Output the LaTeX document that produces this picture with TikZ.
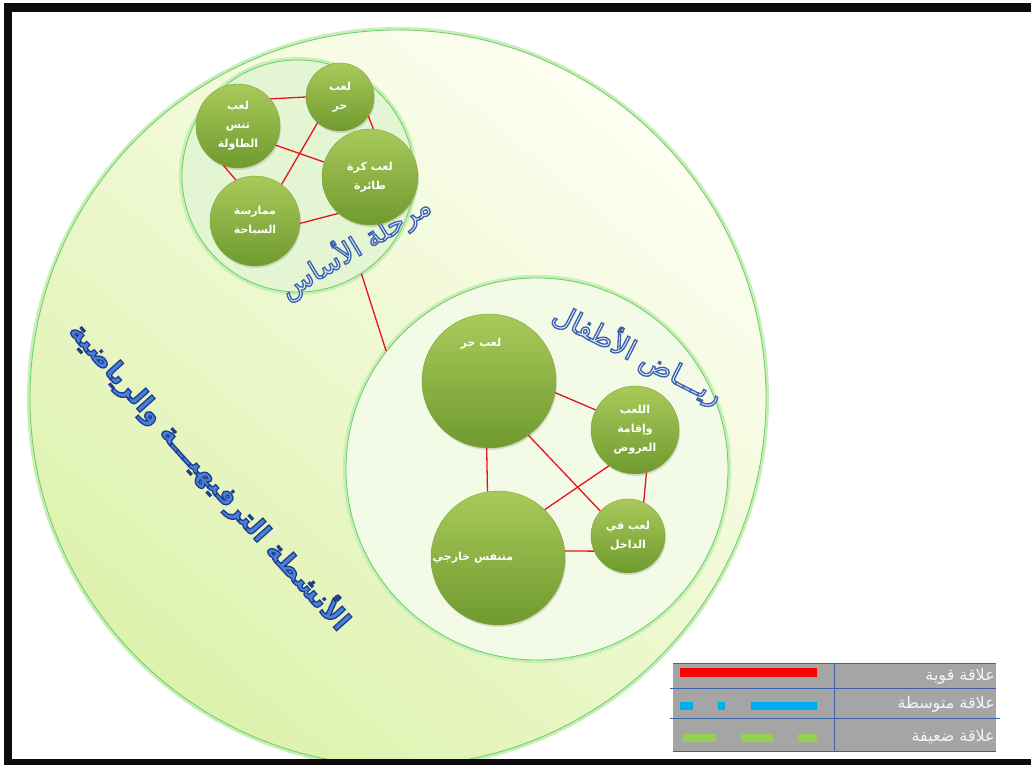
\documentclass[tikz,border=0pt]{standalone}
\usepackage{fontspec}
\newfontfamily\arabicfont[Script=Arabic]{DejaVu Sans}
\TeXXeTstate=1
\usetikzlibrary{calc,shadows}

\definecolor{nodeTop}{HTML}{A9CA5B}
\definecolor{nodeBot}{HTML}{6F9A2E}
\definecolor{nodeEdge}{HTML}{7FA63C}
\definecolor{ringG}{HTML}{6CCB6A}
\definecolor{glowG}{HTML}{C6EFB4}
\definecolor{paleY}{HTML}{FEFEF2}
\definecolor{paleG}{HTML}{DDF2AC}
\definecolor{stageG}{HTML}{E3F5D2}
\definecolor{kgG}{HTML}{F3FAE6}
\definecolor{linkR}{HTML}{E5141C}
\definecolor{titleFill}{HTML}{E4EDFA}
\definecolor{bigFill}{HTML}{4A80D6}
\definecolor{legGray}{HTML}{A5A5A5}
\definecolor{legLine}{HTML}{3F63A8}
\definecolor{legBlue}{HTML}{00AEEF}
\definecolor{legGreen}{HTML}{92D050}
\definecolor{legRed}{HTML}{FF0000}

\newcommand\bubblefont{\arabicfont\bfseries\fontsize{11}{19}\selectfont}
% outlined glyphs: fill with the text colour, stroke with the given rgb and width
\newcommand\outlined[2]{\special{pdf:literal direct #1 RG #2 w 2 Tr}}

\begin{document}
\begin{tikzpicture}[x=1pt,y=-1pt,
  region/.style={circle, inner sep=0pt, draw=ringG, line width=0.8pt,
    preaction={draw=glowG, line width=6pt}},
  bubble/.style={circle, inner sep=0pt, top color=nodeTop, bottom color=nodeBot,
    draw=nodeEdge, line width=0.4pt, text=white, font=\bubblefont, align=center,
    drop shadow={opacity=0.25, shadow xshift=1pt, shadow yshift=-2pt}},
  bubbletext/.style={text=white, font=\bubblefont, align=center, inner sep=0pt},
  link/.style={draw=linkR, line width=1.3pt},
  stagetitle/.style={text=titleFill, font=\arabicfont\fontsize{28}{28}\selectfont, inner sep=0pt},
  bigtitle/.style={text=bigFill, font=\arabicfont\bfseries\fontsize{27}{27}\selectfont, inner sep=0pt},
  legtext/.style={text=white!96!black, font=\arabicfont\fontsize{16}{16}\selectfont, inner sep=0pt, anchor=east},
  legrule/.style={draw=legLine, line width=0.6pt}
]
\useasboundingbox (0,0) rectangle (1031,765);
\fill[white] (0,0) rectangle (1031,765);

% outer circle: recreational and sports activities
\node[region, minimum size=736pt, top color=paleY, bottom color=paleG, shading angle=-40] (outer) at (398,398) {};

% stage circles
\node[region, minimum size=232pt, fill=stageG] (basic) at (298,176) {};
\node[region, minimum size=382pt, fill=kgG] (kg) at (537,469) {};

% link between the two stages
\draw[link] (basic.-57) -- (kg.142);

% titles
\node[bigtitle, rotate=-48] (bigt) at (210,476) {\outlined{0.12 0.24 0.56}{1.3}\beginR الأنشطة الترفيهيـــة والرياضية\endR};
\node[stagetitle, rotate=31] (basict) at (355,247) {\outlined{0.23 0.38 0.68}{1.3}\beginR مرحلة الأساس\endR};
\node[stagetitle, rotate=-27] (kgt) at (638,354) {\outlined{0.23 0.38 0.68}{1.3}\beginR ريـــاض الأطفال\endR};

% basic stage activities
\node[bubble, minimum size=68pt] (n1) at (340,97) {لعب\\حر};
\node[bubble, minimum size=84pt] (n2) at (238,126) {لعب\\تنس\\الطاولة};
\node[bubble, minimum size=96pt] (n3) at (370,177) {\beginR لعب كرة\endR\\طائرة};
\node[bubble, minimum size=90pt] (n4) at (255,221) {ممارسة\\السباحة};

\draw[link] (n2.40) -- (n1.180);
\draw[link] (n1.-34) -- (n3.86);
\draw[link] (n2.-27) -- (n3.162);
\draw[link] (n1.229) -- (n4.54);
\draw[link] (n2.250) -- (n4.115);
\draw[link] (n4.-3) -- (n3.229);

% kindergarten activities
\node[bubble, minimum size=134pt] (m1) at (489,381) {};
\node[bubbletext] (m1t) at (481,344) {\beginR لعب حر\endR};
\node[bubble, minimum size=88pt] (m2) at (635,430) {اللعب\\وإقامة\\العروض};
\node[bubble, minimum size=74pt] (m3) at (628,536) {\beginR لعب في\endR\\الداخل};
\node[bubble, minimum size=134pt] (m4) at (498,558) {};
\node[bubbletext] (m4t) at (473,558) {\beginR متنفس خارجي\endR};

\draw[link] (m1.-10) -- (m2.153);
\draw[link] (m1.268) -- (m4.99);
\draw[link] (m1.-54) -- (m3.138);
\draw[link] (m2.234) -- (m4.46);
\draw[link] (m2.-75) -- (m3.65);
\draw[link] (m4.6) -- (m3.204);

% legend table
\fill[legGray] (673,663) rectangle (996,751);
\draw[legrule] (673,663) -- (996,663);
\draw[legrule] (670,688) -- (996,688);
\draw[legrule] (670,718) -- (1000,718);
\draw[legrule] (673,751) -- (996,751);
\draw[legrule] (834,663) -- (834,751);
\fill[legRed] (680,668) rectangle (817,677);
\fill[legBlue] (680,702) rectangle (693,710);
\fill[legBlue] (718,702) rectangle (725,710);
\fill[legBlue] (751,702) rectangle (817,710);
\fill[legGreen] (683,734) rectangle (716,742);
\fill[legGreen] (741,734) rectangle (773,742);
\fill[legGreen] (798,734) rectangle (817,742);
\node[legtext] (l1) at (995,676) {\beginR علاقة قوية\endR};
\node[legtext] (l2) at (995,704) {\beginR علاقة متوسطة\endR};
\node[legtext] (l3) at (995,737) {\beginR علاقة ضعيفة\endR};

% frame
\fill[black!95] (4,3) rectangle (1031,12);
\fill[black!95] (4,3) rectangle (12,765);
\fill[black!95] (4,759) rectangle (1031,765);
\end{tikzpicture}
\end{document}
